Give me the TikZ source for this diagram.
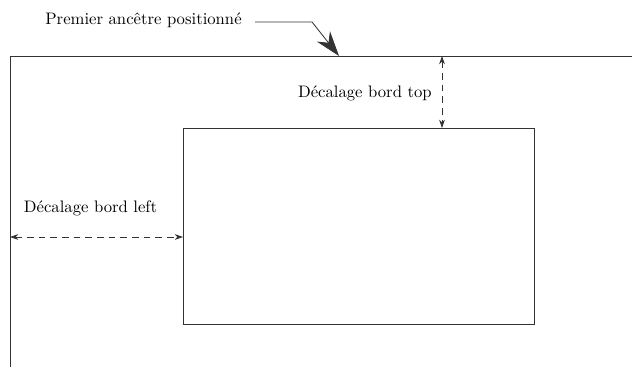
\documentclass[tikz,border=0pt]{standalone}
\usetikzlibrary{arrows.meta}
\begin{document}
\begin{tikzpicture}[x=0.6pt,y=-0.6pt,
  edge/.style={line width=0.5pt, black!80},
  gap/.style={edge, dash pattern=on 4pt off 3pt, {Stealth[length=5pt,width=3.5pt]}-{Stealth[length=5pt,width=3.5pt]}},
  lbl/.style={inner sep=0pt, font=\normalsize}]
  \useasboundingbox (0,0) rectangle (632,367);
  % outer positioned ancestor (open frame)
  \coordinate (ftl) at (10,56);
  \coordinate (ftr) at (632,56);
  \coordinate (fbl) at (10,367);
  \draw[edge] (ftr) -- (ftl) -- (fbl);
  % positioned element
  \node[draw, edge, minimum width=351*0.6pt, minimum height=196*0.6pt, inner sep=0pt, anchor=north west] (box) at (183,128) {};
  % top offset
  \coordinate (ttop) at (442,56);
  \coordinate (tbot) at (442,128);
  \draw[gap] (ttop) -- (tbot);
  \node[lbl, anchor=east] (toplbl) at (432,93) {Décalage bord top};
  % left offset
  \coordinate (lleft) at (10,237);
  \coordinate (lright) at (183,237);
  \draw[gap] (lleft) -- (lright);
  \node[lbl] (leftlbl) at (90.5,208) {Décalage bord left};
  % ancestor pointer
  \node[lbl, anchor=east] (anc) at (242,20) {Premier ancêtre positionné};
  \coordinate (bend) at (312,22);
  \coordinate (tip) at (339,56);
  \draw[edge, -{Stealth[length=15pt,width=10pt]}] (255,22) -- (bend) -- (tip);
\end{tikzpicture}
\end{document}
